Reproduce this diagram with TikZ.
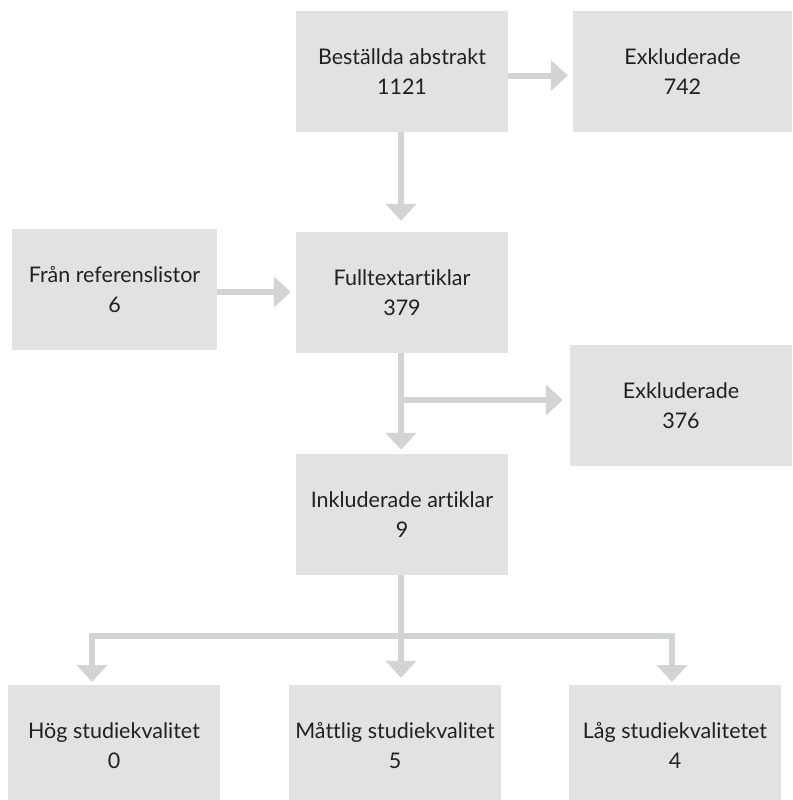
\documentclass[tikz,border=0pt]{standalone}
\usepackage{fontspec}
\setmainfont{Lato}[Ligatures=NoCommon]
\usetikzlibrary{arrows.meta}
\definecolor{boxgray}{HTML}{E2E2E2}
\definecolor{arrgray}{HTML}{D2D3D3}
\definecolor{txtgray}{HTML}{231F20}
\begin{document}
\begin{tikzpicture}[
  x=1pt, y=-1pt,
  box/.style={fill=boxgray, draw=none, inner sep=0pt, minimum width=212pt, minimum height=121pt,
    align=center, text=txtgray, font=\fontsize{21.5}{30}\selectfont},
  flow/.style={draw=arrgray, line width=6pt},
  arr/.style={flow, -{Triangle[length=17pt, width=30pt]}}
]
  % Ram
  \useasboundingbox (0,0) rectangle (792,800);

  % Rutor
  \node[box]                     (abs)  at (402, 71.5)  {Beställda abstrakt\\1121};
  \node[box, minimum width=219pt] (exc1) at (682.5, 71.5) {Exkluderade\\742};
  \node[box, minimum width=205pt] (ref)  at (114.5, 289.5) {Från referenslistor\\6};
  \node[box]                     (full) at (402, 292.5) {Fulltextartiklar\\379};
  \node[box, minimum width=222pt] (exc2) at (681, 405.5) {Exkluderade\\376};
  \node[box]                     (inc)  at (402, 514.5) {Inkluderade artiklar\\9};
  \node[box] (hog) at (114, 745.5) {Hög studiekvalitet\\0};
  \node[box] (mat) at (395, 745.5) {Måttlig studiekvalitet\\5};
  \node[box] (lag) at (675, 745.5) {Låg studiekvalitetet\\4};

  % Hjälppunkter
  \coordinate (b1)    at (401, 400);
  \coordinate (split) at (401, 636);
  \coordinate (hogin) at (92, 685);
  \coordinate (lagin) at (672, 685);

  % Pilar
  \draw[arr, shorten >=5pt] ([yshift=-4pt]abs.east) -- ([yshift=-4pt]exc1.west);
  \draw[arr, shorten >=11pt] ([xshift=-1pt]abs.south) -- ([xshift=-1pt]full.north);
  \draw[arr, shorten >=5pt] ([yshift=-2.5pt]ref.east) -- ([yshift=-2.5pt]ref.east -| full.west);
  \draw[arr, shorten >=4pt] ([xshift=-1pt]full.south) -- ([xshift=-1pt]inc.north);
  \draw[arr, shorten >=7pt] (b1) -- (b1 -| exc2.west);
  \draw[flow] ([xshift=-1pt]inc.south) -- (split);
  \draw[arr, shorten >=7pt] (split) -- (split |- mat.north);
  \draw[arr, shorten >=3pt] (split) -| (hogin);
  \draw[arr, shorten >=3pt] (split) -| (lagin);
\end{tikzpicture}
\end{document}
